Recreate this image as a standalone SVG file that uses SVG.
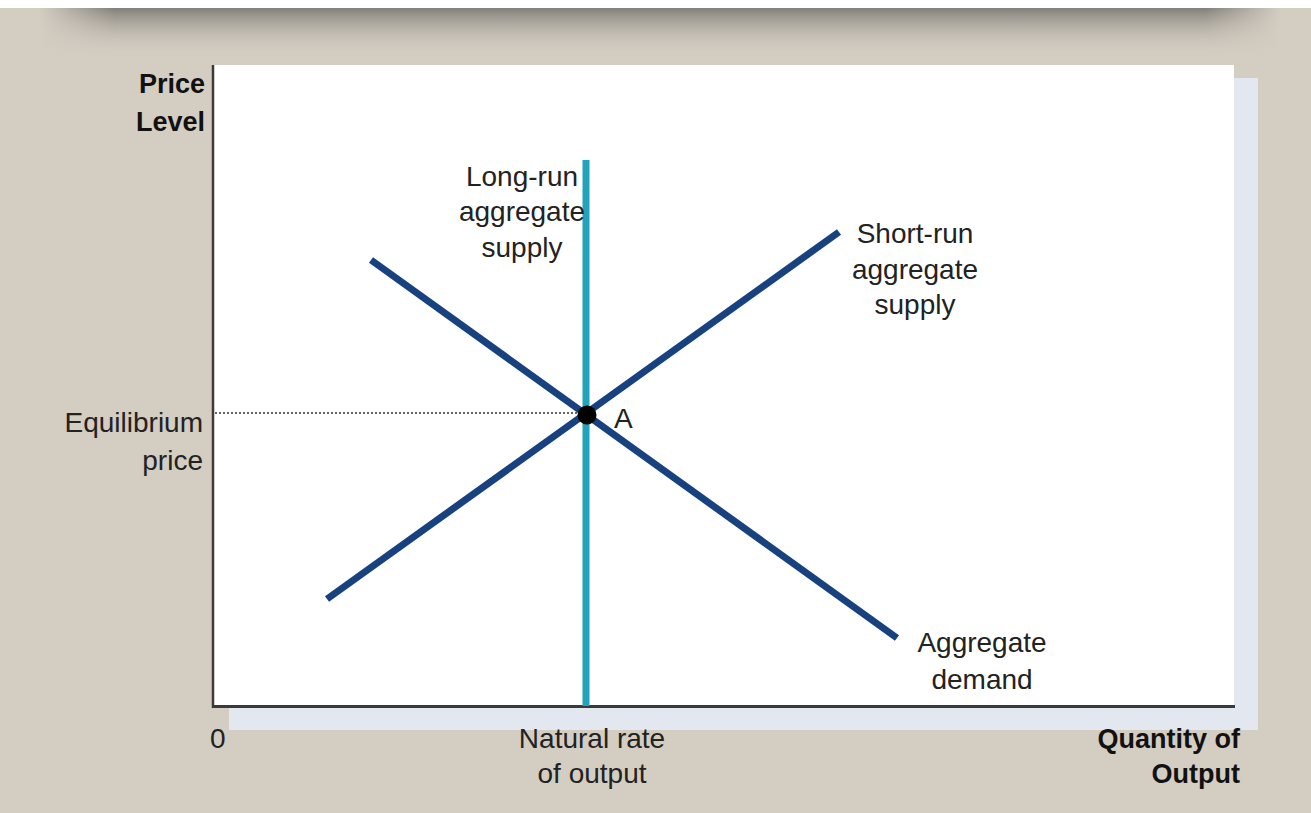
<svg xmlns="http://www.w3.org/2000/svg" width="1311" height="813" viewBox="0 0 1311 813">
  <defs>
    <linearGradient id="top-shade" x1="0" y1="0" x2="0" y2="1">
      <stop offset="0" stop-color="#7e7b75" stop-opacity="0.95"/>
      <stop offset="0.35" stop-color="#9c9890" stop-opacity="0.6"/>
      <stop offset="1" stop-color="#d4cdc2" stop-opacity="0"/>
    </linearGradient>
    <linearGradient id="edge-fade" x1="0" y1="0" x2="1" y2="0">
      <stop offset="0" stop-color="#fff" stop-opacity="0"/>
      <stop offset="0.06" stop-color="#fff" stop-opacity="1"/>
      <stop offset="0.94" stop-color="#fff" stop-opacity="1"/>
      <stop offset="1" stop-color="#fff" stop-opacity="0"/>
    </linearGradient>
    <mask id="edge-mask">
      <rect x="40" y="8" width="1240" height="50" fill="url(#edge-fade)"/>
    </mask>
    <style>
      .lbl { font-family: "Liberation Sans", Arial, sans-serif; font-size: 28px; fill: #222; }
      .axis-title { font-family: "Liberation Sans", Arial, sans-serif; font-size: 27px; font-weight: bold; fill: #111; }
      .axis { stroke: #3a3a3a; fill: none; }
      .curve { stroke: #17427f; stroke-width: 7; stroke-linecap: butt; fill: none; }
      .lras { stroke: #20a3bb; stroke-width: 7; fill: none; }
    </style>
  </defs>

  <!-- page background -->
  <rect x="0" y="0" width="1311" height="813" fill="#ffffff"/>
  <rect x="0" y="8" width="1311" height="805" fill="#d4cdc2"/>
  <!-- shadow cast along the top edge -->
  <rect x="40" y="8" width="1240" height="50" fill="url(#top-shade)" mask="url(#edge-mask)"/>

  <!-- plot panel with pale offset backing -->
  <rect x="229" y="78" width="1029" height="652" fill="#e3e7ef"/>
  <rect x="213" y="65" width="1021" height="642" fill="#ffffff"/>

  <!-- axes -->
  <g id="axes">
    <line class="axis" x1="213" y1="65" x2="213" y2="708" stroke-width="2.5"/>
    <line class="axis" x1="212" y1="706.5" x2="1235" y2="706.5" stroke-width="3"/>
  </g>

  <!-- curves -->
  <g id="connectors">
    <line id="equilibrium-guide" x1="215" y1="413" x2="580" y2="413" stroke="#333" stroke-width="1.5" stroke-dasharray="2 2"/>
    <line id="lras" class="lras" x1="586" y1="160" x2="586" y2="706"/>
    <line id="aggregate-demand" class="curve" x1="371" y1="260" x2="897" y2="638"/>
    <line id="sras" class="curve" x1="327" y1="599" x2="839" y2="232"/>
  </g>

  <!-- equilibrium point -->
  <g id="point-a">
    <circle cx="587" cy="415" r="9.5" fill="#000"/>
    <text class="lbl" x="614" y="428">A</text>
  </g>

  <!-- axis titles -->
  <g id="y-title">
    <text class="axis-title" x="205" y="93" text-anchor="end">Price</text>
    <text class="axis-title" x="205" y="131" text-anchor="end">Level</text>
  </g>
  <g id="x-title">
    <text class="axis-title" x="1240" y="748" text-anchor="end">Quantity of</text>
    <text class="axis-title" x="1240" y="783" text-anchor="end">Output</text>
  </g>

  <!-- tick labels -->
  <g id="origin">
    <text class="lbl" x="210" y="748">0</text>
  </g>
  <g id="equilibrium-price">
    <text class="lbl" x="203" y="432" text-anchor="end">Equilibrium</text>
    <text class="lbl" x="203" y="470" text-anchor="end">price</text>
  </g>
  <g id="natural-rate">
    <text class="lbl" x="592" y="748" text-anchor="middle">Natural rate</text>
    <text class="lbl" x="592" y="783" text-anchor="middle">of output</text>
  </g>

  <!-- curve labels -->
  <g id="lras-label">
    <text class="lbl" x="522" y="186" text-anchor="middle">Long-run</text>
    <text class="lbl" x="522" y="221" text-anchor="middle">aggregate</text>
    <text class="lbl" x="522" y="257" text-anchor="middle">supply</text>
  </g>
  <g id="sras-label">
    <text class="lbl" x="915" y="243" text-anchor="middle">Short-run</text>
    <text class="lbl" x="915" y="279" text-anchor="middle">aggregate</text>
    <text class="lbl" x="915" y="314" text-anchor="middle">supply</text>
  </g>
  <g id="ad-label">
    <text class="lbl" x="982" y="652" text-anchor="middle">Aggregate</text>
    <text class="lbl" x="982" y="689" text-anchor="middle">demand</text>
  </g>
</svg>
